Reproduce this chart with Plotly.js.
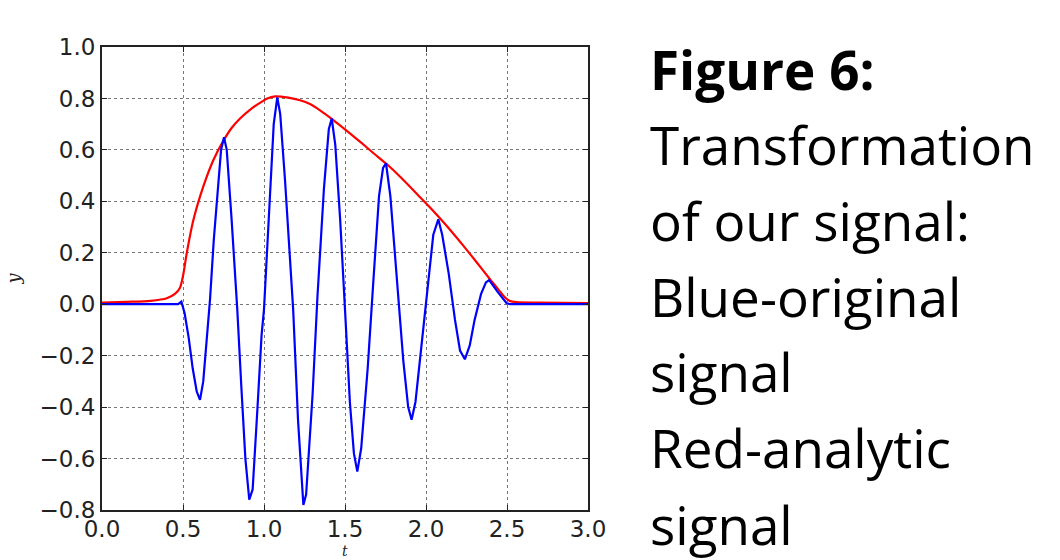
<!DOCTYPE html>
<html>
<head>
<meta charset="utf-8">
<script src="https://cdn.plot.ly/plotly-3.0.1.min.js"></script>
<style>html,body{margin:0;padding:0;background:#fff;}#chart{width:1060px;height:560px;}</style>
</head>
<body>
<div id="chart"></div>
<script>
// Blue: original signal (t, y)
const blueT = [0.00, 0.47, 0.49, 0.51, 0.535, 0.56, 0.585, 0.605, 0.625, 0.645, 0.667, 0.69, 0.715, 0.735, 0.753, 0.77, 0.80, 0.835, 0.86, 0.885, 0.909, 0.93, 0.96, 0.985, 1.00, 1.03, 1.06, 1.082, 1.10, 1.13, 1.18, 1.21, 1.243, 1.26, 1.30, 1.33, 1.37, 1.40, 1.418, 1.44, 1.47, 1.50, 1.53, 1.555, 1.576, 1.60, 1.64, 1.675, 1.71, 1.735, 1.753, 1.78, 1.81, 1.835, 1.86, 1.89, 1.911, 1.935, 1.97, 2.014, 2.045, 2.076, 2.10, 2.14, 2.179, 2.21, 2.24, 2.27, 2.30, 2.34, 2.37, 2.39, 2.44, 2.498, 2.52, 3.00];
const blueY = [0.00, 0.00, 0.01, -0.035, -0.13, -0.25, -0.34, -0.372, -0.30, -0.15, 0.02, 0.25, 0.46, 0.60, 0.649, 0.60, 0.33, -0.02, -0.32, -0.60, -0.76, -0.72, -0.40, -0.12, -0.02, 0.35, 0.70, 0.804, 0.74, 0.48, -0.02, -0.45, -0.78, -0.74, -0.35, 0.03, 0.45, 0.68, 0.722, 0.62, 0.33, -0.02, -0.38, -0.58, -0.651, -0.56, -0.25, 0.09, 0.42, 0.53, 0.548, 0.42, 0.18, -0.02, -0.22, -0.40, -0.449, -0.38, -0.18, 0.09, 0.27, 0.33, 0.27, 0.12, -0.061, -0.18, -0.214, -0.16, -0.061, 0.04, 0.085, 0.094, 0.05, 0.004, 0.00, 0.00];
// Red: analytic signal envelope (t, |y|)
const redT = [0.00, 0.15, 0.30, 0.40, 0.45, 0.48, 0.50, 0.523, 0.564, 0.625, 0.687, 0.749, 0.80, 0.852, 0.915, 0.975, 1.02, 1.068, 1.15, 1.222, 1.284, 1.35, 1.428, 1.50, 1.60, 1.68, 1.757, 1.85, 1.95, 2.025, 2.086, 2.16, 2.23, 2.31, 2.395, 2.45, 2.49, 2.52, 2.56, 2.70, 3.00];
const redY = [0.006, 0.009, 0.013, 0.023, 0.04, 0.062, 0.11, 0.198, 0.327, 0.457, 0.56, 0.635, 0.685, 0.722, 0.757, 0.783, 0.800, 0.808, 0.803, 0.793, 0.778, 0.752, 0.716, 0.680, 0.628, 0.585, 0.545, 0.490, 0.425, 0.376, 0.334, 0.281, 0.228, 0.165, 0.097, 0.055, 0.025, 0.012, 0.008, 0.006, 0.004];

const xTicks = [0, 0.5, 1, 1.5, 2, 2.5, 3];
const xTickText = ["0.0", "0.5", "1.0", "1.5", "2.0", "2.5", "3.0"];
const yTicks = [1.0, 0.8, 0.6, 0.4, 0.2, 0, -0.2, -0.4, -0.6, -0.8];
const yTickText = ["1.0", "0.8", "0.6", "0.4", "0.2", "0.0", "\u22120.2", "\u22120.4", "\u22120.6", "\u22120.8"];
const xTitle = "t";
const yTitle = "y";

const captionLines = ["<b>Figure 6:</b>", "Transformation", "of our signal:", "Blue-original", "signal", "Red-analytic", "signal"];

const W = 1060, H = 560;
const M = {l: 102, r: 472, t: 47, b: 50};
const pw = W - M.l - M.r, ph = H - M.t - M.b;
const capX = (648 - M.l) / pw;
const baselines = [89, 164, 240, 316, 391, 467, 544];
const capSize = 53;
const py = p => 1 - (p - M.t) / ph;

const annotations = captionLines.map((txt, i) => ({
  text: txt, xref: 'paper', yref: 'paper',
  x: capX, xanchor: 'left',
  y: py(baselines[i] - 20), yanchor: 'middle',
  showarrow: false,
  font: {family: 'Open Sans', size: capSize, color: '#000'}
}));
annotations.push({
  text: '<i>' + xTitle + '</i>', xref: 'paper', yref: 'paper',
  x: 0.5, xanchor: 'center', y: py(541), yanchor: 'top',
  showarrow: false, font: {family: 'DejaVu Serif', size: 14, color: '#222'}
});

const tickFont = {family: 'DejaVu Sans', size: 23, color: '#222'};

const data = [
  {x: redT, y: redY, type: 'scatter', mode: 'lines', line: {color: '#ff0000', width: 2.2, shape: 'spline', smoothing: 0.8}, name: 'analytic', hoverinfo: 'skip'},
  {x: blueT, y: blueY, type: 'scatter', mode: 'lines', line: {color: '#0000ff', width: 2.2}, name: 'original', hoverinfo: 'skip'}
];

const layout = {
  width: W, height: H,
  margin: M,
  paper_bgcolor: '#fff', plot_bgcolor: '#fff',
  showlegend: false,
  font: {family: 'DejaVu Sans'},
  xaxis: {
    range: [0, 3], tickvals: xTicks, ticktext: xTickText,
    ticks: 'inside', ticklen: 5, tickwidth: 1, tickcolor: '#222',
    showline: true, linecolor: '#222', linewidth: 2, mirror: 'allticks',
    showgrid: true, gridcolor: '#777', griddash: 'dot', gridwidth: 1,
    zeroline: false, tickfont: tickFont, ticklabelstandoff: -3
  },
  yaxis: {
    range: [-0.8, 1.0], tickvals: yTicks, ticktext: yTickText,
    ticks: 'inside', ticklen: 5, tickwidth: 1, tickcolor: '#222',
    showline: true, linecolor: '#222', linewidth: 2, mirror: 'allticks',
    showgrid: true, gridcolor: '#777', griddash: 'dot', gridwidth: 1,
    zeroline: false, tickfont: tickFont,
    title: {text: '<i>' + yTitle + '</i>', font: {family: 'DejaVu Serif', size: 18, color: '#222'}, standoff: 14}
  },
  annotations: annotations
};

Plotly.newPlot('chart', data, layout, {displayModeBar: false, staticPlot: true});
</script>
</body>
</html>
